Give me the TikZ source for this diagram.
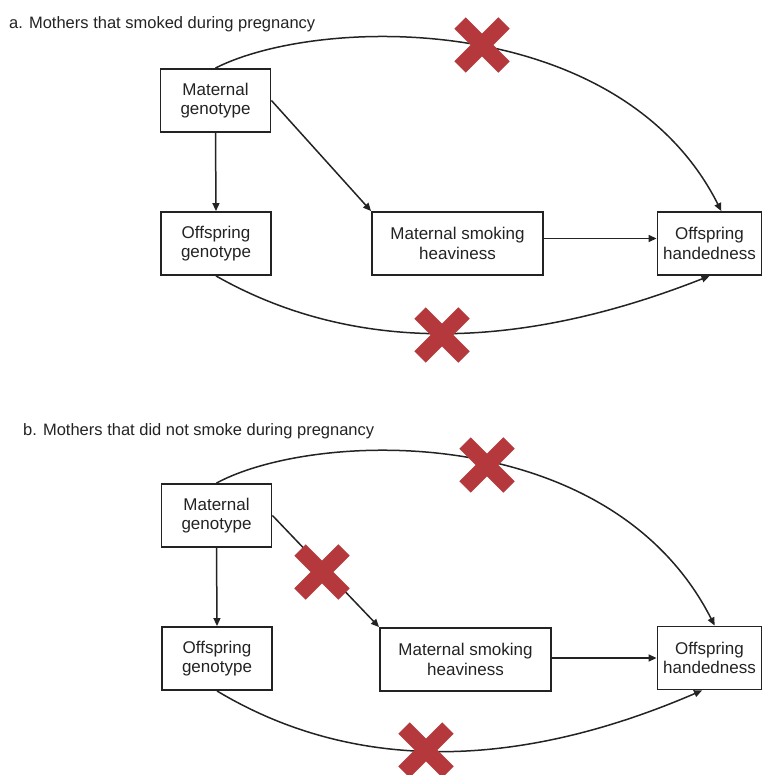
\documentclass[tikz,border=0pt]{standalone}
\usepackage{fontspec}
\setmainfont{Liberation Sans}
\usetikzlibrary{arrows.meta}
\definecolor{crossred}{RGB}{181,56,60}
\definecolor{ink}{RGB}{35,35,35}
\begin{document}
\begin{tikzpicture}[x=1pt,y=-1pt,
  box/.style={draw=ink, line width=1.9pt, fill=white, inner sep=0pt, minimum height=63pt,
    align=center, font=\fontsize{17}{19.5}\selectfont, text=ink},
  geno/.style={box, minimum width=110pt},
  smokebox/.style={box, minimum width=171pt},
  handbox/.style={box, minimum width=104pt},
  link/.style={draw=ink, line width=1.5pt, -{Triangle[length=8pt,width=7pt]}},
  title/.style={anchor=base west, inner sep=0pt, font=\fontsize{16.5}{20}\selectfont, text=ink},
  nocross/.pic={\draw[crossred, line width=16pt] (-22,-22) -- (22,22) (-22,22) -- (22,-22);}
]
\useasboundingbox (0,0) rectangle (763,775);

% ---------- panel a ----------
\node[title] (ta) at (9,29) {a. Mothers that smoked during pregnancy};
\node[geno] (mga) at (215.5,100.5) {Maternal\\genotype};
\node[geno] (oga) at (216,243.5) {Offspring\\genotype};
\node[smokebox] (smka) at (457.5,243.5) {Maternal smoking\\heaviness};
\node[handbox] (ha) at (709.5,243.5) {Offspring\\handedness};

\draw[link] (mga.south) -- (oga.north);
\draw[link] (mga.east) -- (smka.north west);
\draw[link] ([yshift=5pt]smka.east) -- ([yshift=5pt]smka.east -| ha.west);
\draw[link] (mga.north) .. controls (320,15) and (620,10) .. (ha.70);
\draw[link] (oga.south) .. controls (350,352) and (514,353) .. (ha.south);

\pic at (482,45) {nocross};
\pic at (442,335) {nocross};

% ---------- panel b ----------
\node[title] (tb) at (23,435) {b. Mothers that did not smoke during pregnancy};
\node[geno] (mgb) at (216.5,515.5) {Maternal\\genotype};
\node[geno] (ogb) at (217,658.5) {Offspring\\genotype};
\node[smokebox] (smkb) at (465.5,659.5) {Maternal smoking\\heaviness};
\node[handbox] (hb) at (709.5,658) {Offspring\\handedness};

\draw[link] (mgb.south) -- (ogb.north);
\draw[link] (mgb.east) -- (smkb.north west);
\draw[link] ([yshift=1.5pt]smkb.east) -- ([yshift=1.5pt]smkb.east -| hb.west);
\draw[link] (mgb.north) .. controls (315,430) and (610,420) .. (hb.81);
\draw[link] (ogb.south) .. controls (352,772) and (515,771) .. (hb.257);

\pic at (487,465) {nocross};
\pic at (322,572) {nocross};
\pic at (426,750) {nocross};
\end{tikzpicture}
\end{document}
